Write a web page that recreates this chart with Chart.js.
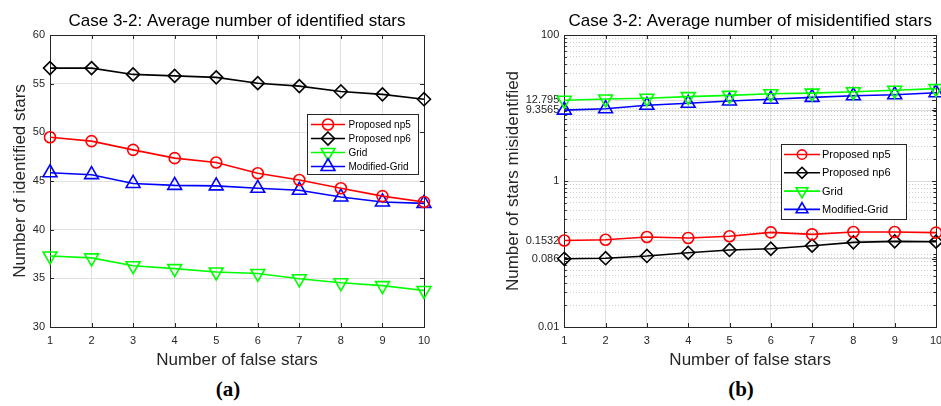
<!DOCTYPE html>
<html><head><meta charset="utf-8">
<script src="https://cdn.jsdelivr.net/npm/chart.js@4"></script>
<style>
html,body{margin:0;padding:0;background:#fff;width:941px;height:406px;overflow:hidden;position:relative}
#wa{position:absolute;left:0;top:0;width:470px;height:375px}
#wb{position:absolute;left:470px;top:0;width:480px;height:375px}
.lab{position:absolute;top:377px;font:bold 21px "Liberation Serif","DejaVu Serif",serif;color:#000;transform:translateX(-50%);white-space:nowrap}
</style></head><body>
<div id="wa"><canvas id="ca" width="470" height="375"></canvas></div>
<div id="wb"><canvas id="cb" width="480" height="375"></canvas></div>
<div class="lab" style="left:228px">(<span>a</span>)</div>
<div class="lab" style="left:741px">(<span>b</span>)</div>
<script>
// ---- data ----
const falseStars = [1, 2, 3, 4, 5, 6, 7, 8, 9, 10];
const seriesNames = ['Proposed np5', 'Proposed np6', 'Grid', 'Modified-Grid'];

const idNp5  = [49.5, 49.1, 48.2, 47.35, 46.9, 45.8, 45.1, 44.25, 43.45, 42.85];
const idNp6  = [56.6, 56.6, 55.95, 55.8, 55.65, 55.05, 54.75, 54.2, 53.9, 53.4];
const idGrid = [37.3, 37.1, 36.3, 36.0, 35.65, 35.5, 34.95, 34.55, 34.25, 33.75];
const idMod  = [45.85, 45.65, 44.75, 44.55, 44.5, 44.25, 44.05, 43.35, 42.85, 42.7];

const misNp5  = [0.1532, 0.157, 0.171, 0.166, 0.175, 0.198, 0.186, 0.2, 0.2, 0.196];
const misNp6  = [0.086, 0.0875, 0.094, 0.104, 0.1135, 0.118, 0.13, 0.1445, 0.149, 0.1475];
const misGrid = [12.795, 13.3, 13.6, 14.3, 14.9, 15.7, 16.0, 16.7, 17.5, 18.4];
const misMod  = [9.3565, 9.78, 10.9, 11.6, 12.5, 13.2, 14.0, 14.7, 15.2, 16.2];

const idTicks = [30, 35, 40, 45, 50, 55, 60];
const misTicks = [0.01, 0.086, 0.1532, 1, 9.3565, 12.795, 100];
const misTickLabels = ['0.01', '0.086', '0.1532', '1', '9.3565', '12.795', '100'];

// ---- styling ----
const FONT = '"Liberation Sans", Arial, Helvetica, sans-serif';
const AX = '#262626';
const styles = [
  {color: '#ff0000', shape: 'circle', r: 5.5, rot: 0},
  {color: '#000000', shape: 'rectRot', r: 6.5, rot: 0},
  {color: '#00ff00', shape: 'triangle', r: 8, rot: 180},
  {color: '#0000ff', shape: 'triangle', r: 8, rot: 0}
];

function drawMarker(ctx, st, x, y, scale) {
  const r = st.r * (scale || 1);
  ctx.save();
  ctx.strokeStyle = st.color; ctx.lineWidth = 1.6;
  ctx.beginPath();
  if (st.shape === 'circle') ctx.arc(x, y, r, 0, Math.PI * 2);
  else if (st.shape === 'rectRot') { ctx.moveTo(x, y - r); ctx.lineTo(x + r, y); ctx.lineTo(x, y + r); ctx.lineTo(x - r, y); ctx.closePath(); }
  else { const s = st.rot ? -1 : 1; ctx.moveTo(x, y - s * r); ctx.lineTo(x + r * 0.866, y + s * r * 0.5); ctx.lineTo(x - r * 0.866, y + s * r * 0.5); ctx.closePath(); }
  ctx.stroke(); ctx.restore();
}

const boxPlugin = {
  id: 'mlBox',
  beforeDatasetsDraw(chart) {
    const {ctx, chartArea: a} = chart;
    const xs = chart.scales.x, ys = chart.scales.y;
    ctx.save();
    ctx.strokeStyle = AX; ctx.lineWidth = 1;
    ctx.beginPath();
    xs.ticks.forEach(t => {
      const p = Math.round(xs.getPixelForValue(t.value)) + 0.5;
      ctx.moveTo(p, a.bottom); ctx.lineTo(p, a.bottom - 4);
      ctx.moveTo(p, a.top); ctx.lineTo(p, a.top + 4);
    });
    ys.ticks.forEach(t => {
      const p = Math.round(ys.getPixelForValue(t.value)) + 0.5;
      const L = t.minor ? 2.5 : 4;
      ctx.moveTo(a.left, p); ctx.lineTo(a.left + L, p);
      ctx.moveTo(a.right, p); ctx.lineTo(a.right - L, p);
    });
    ctx.stroke();
    ctx.strokeRect(Math.round(a.left) + 0.5, Math.round(a.top) + 0.5, Math.round(a.right - a.left), Math.round(a.bottom - a.top));
    ctx.restore();
  },
  afterDraw(chart) {
    const o = chart.options.plugins.mlLegend;
    if (!o) return;
    const ctx = chart.ctx;
    ctx.save();
    ctx.fillStyle = '#fff';
    ctx.fillRect(o.x, o.y, o.w, o.h);
    ctx.strokeStyle = AX; ctx.lineWidth = 1;
    ctx.strokeRect(o.x + 0.5, o.y + 0.5, o.w, o.h);
    ctx.font = o.font + 'px ' + FONT;
    ctx.textBaseline = 'middle'; ctx.textAlign = 'left';
    chart.data.datasets.forEach((ds, i) => {
      const st = styles[i];
      const y = o.row0 + i * o.rowH;
      ctx.strokeStyle = st.color; ctx.lineWidth = 1.6;
      ctx.beginPath(); ctx.moveTo(o.l0, y); ctx.lineTo(o.l1, y); ctx.stroke();
      drawMarker(ctx, st, (o.l0 + o.l1) / 2, y, o.ms);
      ctx.fillStyle = '#000';
      ctx.fillText(ds.label, o.tx, y + 0.5);
    });
    ctx.restore();
  }
};

function makeDatasets(arrs) {
  return arrs.map((d, i) => ({
    label: seriesNames[i],
    data: d,
    borderColor: styles[i].color,
    backgroundColor: 'transparent',
    borderWidth: 1.6,
    pointStyle: styles[i].shape,
    pointRadius: styles[i].r,
    pointHoverRadius: styles[i].r,
    pointRotation: styles[i].rot,
    pointBorderColor: styles[i].color,
    pointBackgroundColor: 'rgba(0,0,0,0)',
    pointBorderWidth: 1.6,
    tension: 0,
    clip: false
  }));
}

function xScale() {
  return {
    type: 'category', offset: false,
    grid: {color: '#e0e0e0', lineWidth: 1, drawTicks: false},
    border: {display: false},
    ticks: {color: AX, font: {family: FONT, size: 11}, padding: 7, autoSkip: false, maxRotation: 0},
    title: {display: true, text: 'Number of false stars', color: AX, font: {family: FONT, size: 17}, padding: {top: 0, bottom: 4}},
    afterFit(s) { s.height = 48; s.paddingLeft = 0; s.paddingRight = 0; }
  };
}

function titleOpt(text) {
  return {display: true, text, color: '#000', fullSize: false, font: {family: FONT, size: 17, weight: 'normal'}, padding: {top: 11.5, bottom: 3.1}};
}

Chart.defaults.animation = false;

new Chart(document.getElementById('ca'), {
  type: 'line',
  data: {labels: falseStars, datasets: makeDatasets([idNp5, idNp6, idGrid, idMod])},
  options: {
    responsive: false, animation: false, events: [],
    layout: {padding: {left: 0, right: 46, top: 0, bottom: 0}},
    plugins: {
      legend: {display: false}, tooltip: {enabled: false},
      title: titleOpt('Case 3-2: Average number of identified stars'),
      mlLegend: {x: 307, y: 114, w: 111, h: 60, row0: 124.5, rowH: 14, l0: 311, l1: 345, tx: 348.5, font: 10, ms: 1}
    },
    scales: {
      x: xScale(),
      y: {
        type: 'linear', min: idTicks[0], max: idTicks[idTicks.length - 1],
        afterBuildTicks(s) { s.ticks = idTicks.map(v => ({value: v})); },
        grid: {color: '#e0e0e0', lineWidth: 1, drawTicks: false},
        border: {display: false},
        ticks: {color: AX, font: {family: FONT, size: 11}, padding: 5, autoSkip: false},
        title: {display: true, text: 'Number of identified stars', color: AX, font: {family: FONT, size: 17}, padding: {top: 9.8, bottom: 0}},
        afterFit(s) { s.width = 50; }
      }
    }
  },
  plugins: [boxPlugin]
});

// minor log gridlines (2..9 x 10^k) plus decades that are not labelled
const misMinor = [];
for (let k = -2; k <= 1; k++) {
  for (let m = 1; m <= 9; m++) {
    const v = parseFloat((m * Math.pow(10, k)).toPrecision(6));
    if (!misTicks.includes(v)) misMinor.push(v);
  }
}
const isMajor = v => misTicks.includes(v);

new Chart(document.getElementById('cb'), {
  type: 'line',
  data: {labels: falseStars, datasets: makeDatasets([misNp5, misNp6, misGrid, misMod])},
  options: {
    responsive: false, animation: false, events: [],
    layout: {padding: {left: 0, right: 14, top: 0, bottom: 0}},
    plugins: {
      legend: {display: false}, tooltip: {enabled: false},
      title: titleOpt('Case 3-2: Average number of misidentified stars'),
      mlLegend: {x: 311, y: 144, w: 125, h: 75, row0: 154.5, rowH: 18.3, l0: 314, l1: 350, tx: 352, font: 11, ms: 0.85}
    },
    scales: {
      x: xScale(),
      y: {
        type: 'logarithmic', min: 0.01, max: 100,
        afterBuildTicks(s) {
          const all = misTicks.map(v => ({value: v, minor: false})).concat(misMinor.map(v => ({value: v, minor: true})));
          all.sort((a, b) => a.value - b.value);
          s.ticks = all;
        },
        grid: {
          color: c => (c.tick && isMajor(c.tick.value)) ? '#dedede' : '#cdcdcd',
          lineWidth: 1, drawTicks: false
        },
        border: {display: false, dash: c => (c.tick && isMajor(c.tick.value)) ? [] : [1, 2]},
        ticks: {
          color: AX, font: {family: FONT, size: 11}, padding: 5, autoSkip: false,
          callback: v => { const i = misTicks.indexOf(v); return i >= 0 ? misTickLabels[i] : ''; }
        },
        title: {display: true, text: 'Number of stars misidentified', color: AX, font: {family: FONT, size: 17}, padding: {top: 32.8, bottom: 0}},
        afterFit(s) { s.width = 94.3; }
      }
    }
  },
  plugins: [boxPlugin]
});
</script>
</body></html>
